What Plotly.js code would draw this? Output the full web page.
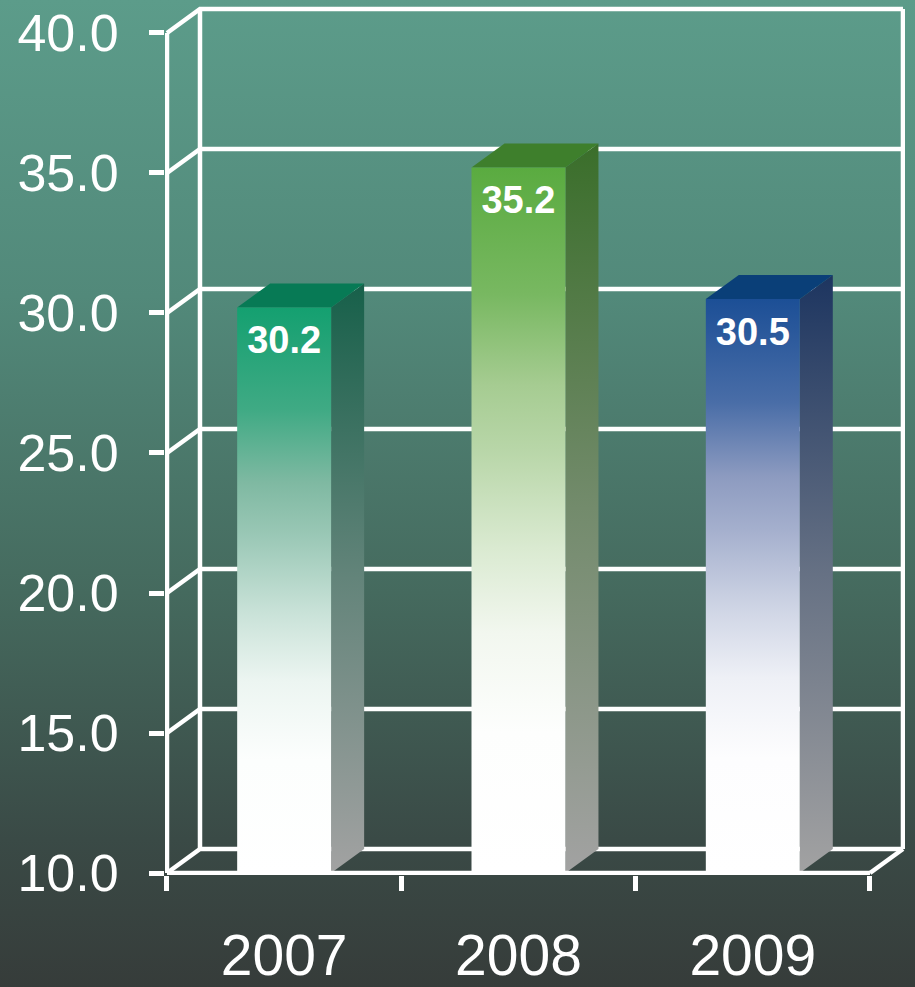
<!DOCTYPE html>
<html><head><meta charset="utf-8">
<script src="https://cdn.plot.ly/plotly-3.0.1.min.js"></script>
<style>
html,body{margin:0;padding:0;width:915px;height:987px;overflow:hidden;
background:linear-gradient(to bottom,#5c9c8a 0%,#52897a 30%,#456a5e 60%,#3a4a46 85%,#363c3a 100%);}
#chart{width:915px;height:987px;}
</style></head><body><div id="chart"></div>
<script>
// ---- data ----
const years = ['2007', '2008', '2009'];
const values = [30.2, 35.2, 30.5];
const yTicks = [10, 15, 20, 25, 30, 35, 40];
const yTickText = ['10.0', '15.0', '20.0', '25.0', '30.0', '35.0', '40.0'];

// ---- styles ----
const frontTop = ['#14a070', '#5aab40', '#1c4f96'];
const frontMid = ['#7fb9a2', '#a6cc92', '#8d9bc0'];
const sideTop = ['#17604a', '#3a6e2a', '#1d3560'];
const topFace = ['#077a55', '#3e7f2c', '#0a3f78'];
const sideBottom = '#a2a2a2';

// ---- geometry (axis units) ----
const DX = 33 / 234.33;   // depth offset along x
const DY = 24 / 28;       // depth offset along y
const BAR_W = 0.401;
const Y0 = yTicks[0], Y1 = yTicks[yTicks.length - 1];
const XL = -0.5, XR = years.length - 0.5;
const LABEL_DROP = 1.3;

function hex2rgb(h) { return [1, 3, 5].map(i => parseInt(h.substr(i, 2), 16)); }
function mix2(a, b, t) {
  const ca = hex2rgb(a), cb = hex2rgb(b);
  return 'rgb(' + ca.map((v, i) => Math.round(v + (cb[i] - v) * t)).join(',') + ')';
}
function frontScale(i) {
  const w = '#ffffff', m = frontMid[i], t = frontTop[i];
  return [
    [0, w], [0.2, mix2(w, m, 0.02)], [0.34, mix2(w, m, 0.15)], [0.46, mix2(w, m, 0.42)],
    [0.6, mix2(w, m, 0.8)], [0.69, m], [0.82, mix2(m, t, 0.6)], [1, t]
  ];
}

const traces = [];
const lineStyle = { color: '#ffffff', width: 4.5 };

// grid lines on the back wall with their diagonals
const gx = [], gy = [];
yTicks.forEach(v => {
  gx.push(XL, XL + DX, XR + DX, null);
  gy.push(v, v + DY, v + DY, null);
});
// wall edges
gx.push(XL, XL, null, XL + DX, XL + DX, null, XR + DX, XR + DX, null, XR, XR + DX, null);
gy.push(Y0, Y1, null, Y0 + DY, Y1 + DY, null, Y0 + DY, Y1 + DY, null, Y0, Y0 + DY, null);
traces.push({ type: 'scatter', mode: 'lines', x: gx, y: gy, line: lineStyle, hoverinfo: 'skip', showlegend: false });

// bars
values.forEach((v, i) => {
  const l = i - BAR_W / 2, r = i + BAR_W / 2;
  // side
  traces.push({
    type: 'scatter', mode: 'lines', fill: 'toself', hoverinfo: 'skip', showlegend: false,
    x: [r, r, r + DX, r + DX, r], y: [Y0, v, v + DY, Y0 + DY, Y0],
    line: { width: 0, color: 'rgba(0,0,0,0)' },
    fillgradient: { type: 'vertical', colorscale: [[0, sideBottom], [0.5, mix2(sideBottom, sideTop[i], 0.45)], [1, sideTop[i]]] }
  });
  // top
  traces.push({
    type: 'scatter', mode: 'lines', fill: 'toself', hoverinfo: 'skip', showlegend: false,
    x: [l, r, r + DX, l + DX, l], y: [v, v, v + DY, v + DY, v],
    line: { width: 0, color: 'rgba(0,0,0,0)' }, fillcolor: topFace[i]
  });
  // front
  traces.push({
    type: 'scatter', mode: 'lines', fill: 'toself', hoverinfo: 'skip', showlegend: false,
    x: [l, r, r, l, l], y: [Y0, Y0, v, v, Y0],
    line: { width: 0, color: 'rgba(0,0,0,0)' },
    fillgradient: { type: 'vertical', colorscale: frontScale(i) }
  });
});

// floor front line
traces.push({ type: 'scatter', mode: 'lines', x: [XL, XR], y: [Y0, Y0], line: lineStyle, hoverinfo: 'skip', showlegend: false });

// value labels (on x2 so the category axis carries a trace)
traces.push({
  type: 'scatter', mode: 'text', xaxis: 'x2', yaxis: 'y',
  x: years.map((_, i) => i), y: values.map(v => v - LABEL_DROP),
  text: values.map(v => v.toFixed(1)), textposition: 'middle center', cliponaxis: false,
  textfont: { family: 'Liberation Sans, Arial, sans-serif', size: 38, color: '#ffffff', weight: 'bold' },
  hoverinfo: 'skip', showlegend: false
});

const xRange = [-0.5085, 2.6495];
const layout = {
  width: 915, height: 987,
  margin: { l: 165, r: 10, t: 3, b: 112 },
  paper_bgcolor: 'rgba(0,0,0,0)', plot_bgcolor: 'rgba(0,0,0,0)',
  showlegend: false,
  font: { family: 'Liberation Sans, Arial, sans-serif', color: '#ffffff' },
  xaxis: {
    type: 'linear', range: xRange, showgrid: false, zeroline: false, showline: false,
    tickvals: years.map((_, i) => i - 0.5).concat([years.length - 0.5]),
    showticklabels: false, ticks: 'outside', ticklen: 15, tickwidth: 5, tickcolor: '#ffffff',
    fixedrange: true
  },
  xaxis2: {
    type: 'linear', range: xRange, overlaying: 'x', anchor: 'y', side: 'bottom',
    showgrid: false, zeroline: false, showline: false,
    tickvals: years.map((_, i) => i), ticktext: years, ticks: '',
    tickfont: { size: 57, color: '#ffffff', family: 'Liberation Sans, Arial, sans-serif' },
    ticklabelstandoff: 42, fixedrange: true
  },
  yaxis: {
    range: [9.9286, 41.071], showgrid: false, zeroline: false, showline: false,
    tickvals: yTicks, ticktext: yTickText, ticks: 'outside', ticklen: 15, tickwidth: 5, tickcolor: '#ffffff',
    tickfont: { size: 52, color: '#ffffff', family: 'Liberation Sans, Arial, sans-serif' },
    ticklabelstandoff: 20, fixedrange: true
  }
};

Plotly.newPlot('chart', traces, layout, { displayModeBar: false, staticPlot: true });
</script></body></html>
